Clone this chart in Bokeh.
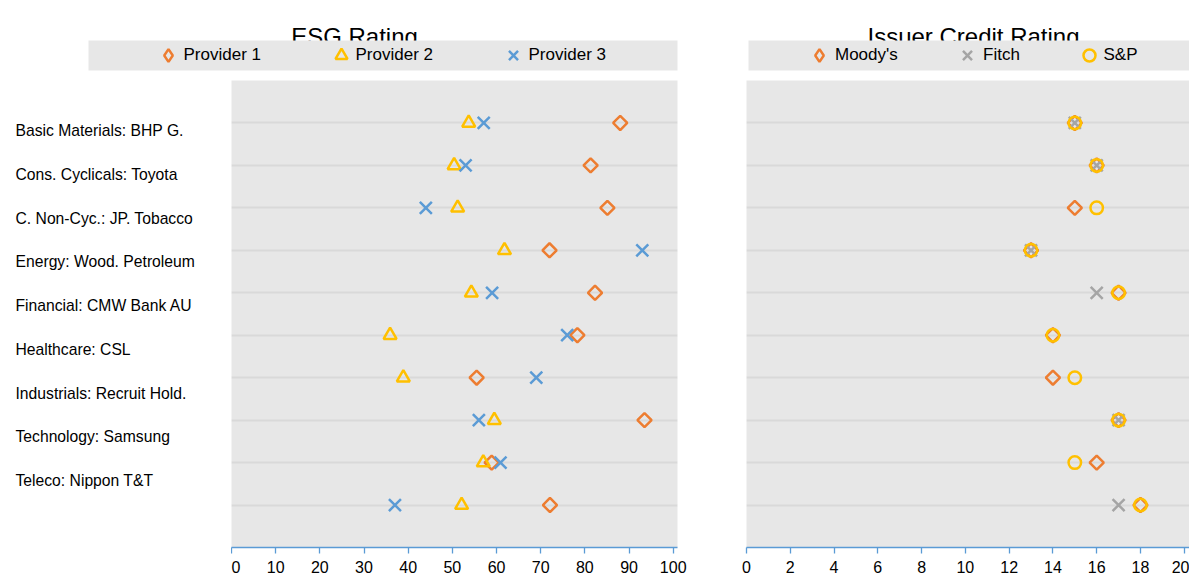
import math
from bokeh.plotting import figure
from bokeh.models import (Range1d, FixedTicker, Legend, LegendItem, Label,
                          BoxAnnotation, ColumnDataSource)
from bokeh.layouts import column, row
from bokeh.embed import file_html
from bokeh.resources import INLINE
from bokeh.core.properties import value

# ---------------- data ----------------
companies = ["Basic Materials: BHP G.", "Cons. Cyclicals: Toyota",
             "C. Non-Cyc.: JP. Tobacco", "Energy: Wood. Petroleum",
             "Financial: CMW Bank AU", "Healthcare: CSL",
             "Industrials: Recruit Hold.", "Technology: Samsung",
             "Teleco: Nippon T&T"]

# ESG scores, rows listed top to bottom (10 rows)
provider1 = [88.0, 81.3, 85.1, 72.0, 82.3, 78.3, 55.5, 93.5, 58.9, 72.1]
provider2 = [53.7, 50.4, 51.2, 61.8, 54.3, 35.9, 38.9, 59.5, 57.0, 52.1]
provider3 = [57.1, 53.0, 44.0, 93.0, 59.0, 76.0, 69.0, 56.0, 60.9, 37.0]

# Issuer credit rating notches, rows top to bottom
nan = float("nan")
moodys = [15, 16, 15, 13, 17, 14, 14, 17, 16, 18]
fitch = [15, 16, nan, 13, 16, nan, nan, 17, nan, 17]
sp = [15, 16, 16, 13, 17, 14, 15, 17, 15, 18]

esg_ticks = list(range(0, 101, 10))
credit_ticks = list(range(0, 21, 2))

esg_title = "ESG Rating"
credit_title = "Issuer Credit Rating"
esg_series = ["Provider 1", "Provider 2", "Provider 3"]
credit_series = ["Moody's", "Fitch", "S&P"]

# ---------------- style ----------------
FONT = "Liberation Sans"
ORANGE = "#ED7D31"
YELLOW = "#FFC000"
BLUE = "#5B9BD5"
GREY = "#A5A5A5"
PANEL = "#E7E7E7"
GRID = "#D9D9D9"
LW = 2.5

W = 1189
HEAD_H = 80
BODY_H = 498
BOTTOM = 31

n_rows = len(provider1)
rows = list(range(n_rows, 0, -1))  # top row gets the highest value

# ---------------- header (titles + legend bands) ----------------
head = figure(width=W, height=HEAD_H, x_range=Range1d(0, W), y_range=Range1d(0, HEAD_H),
              output_backend="svg", toolbar_location=None, min_border=0, title=None,
              x_axis_location=None, y_axis_location=None, outline_line_color=None)
head.grid.visible = False

for txt, cx in [(esg_title, 354), (credit_title, 973)]:
    head.add_layout(Label(x=cx, y=44, text=txt, text_align="center",
                          text_baseline="alphabetic", text_font=FONT,
                          text_font_size="24px", text_color="black"))
for l, r in [(88, 677), (748, W)]:
    head.add_layout(BoxAnnotation(left=l, right=r, bottom=10, top=40,
                                  fill_color=PANEL, fill_alpha=1.0, line_color=None))


def legend_renderer(fig, marker, color):
    return fig.scatter(x=[nan], y=[nan], marker=marker, fill_color=None,
                       line_color=color, line_width=LW)


def add_legend(fig, rend, label, cx, gsize, text_x, cy=25):
    # the legend glyph box must be gsize wide; split any excess between glyph and text
    excess = max(0.0, gsize / 2 - (text_x - cx))
    cx_eff = cx - excess / 2
    standoff = max(0, int(round(text_x + excess / 2 - cx_eff - gsize / 2)))
    leg = Legend(items=[LegendItem(label=label, renderers=[rend])],
                 location=(cx_eff - gsize / 2, cy - gsize / 2), orientation="horizontal",
                 glyph_width=gsize, glyph_height=gsize, label_height=gsize,
                 label_standoff=standoff, padding=0, margin=0, spacing=0,
                 border_line_color=None, background_fill_alpha=0.0,
                 label_text_font=FONT, label_text_font_size="17px",
                 label_text_color="black")
    fig.add_layout(leg)


leg_specs = [
    (esg_series[0], "diamond", ORANGE, 170, 32, 181),
    (esg_series[1], "triangle", YELLOW, 343, 30, 353),
    (esg_series[2], "x", BLUE, 515, 32, 526),
    (credit_series[0], "diamond", ORANGE, 822, 32, 832),
    (credit_series[1], "x", GREY, 970, 32, 980),
    (credit_series[2], "circle", YELLOW, 1091, 30, 1101),
]
for label, marker, color, cx, gs, tx in leg_specs:
    rr = legend_renderer(head, marker, color)
    add_legend(head, rr, label, cx, gs, tx)

# ---------------- category labels ----------------
lab = figure(width=231, height=BODY_H, x_range=Range1d(0, 231),
             y_range=Range1d(-0.531, 10.143), output_backend="svg", toolbar_location=None,
             min_border=0, min_border_bottom=BOTTOM, title=None,
             x_axis_location=None, y_axis_location=None, outline_line_color=None)
lab.grid.visible = False
lab_src = ColumnDataSource(dict(x=[15] * len(companies),
                                y=list(range(len(companies), 0, -1)),
                                text=companies))
lab.text(x="x", y="y", text="text", source=lab_src, text_align="left",
         text_baseline="middle", text_font=value(FONT), text_font_size=value("15.7px"),
         text_color="black")


def style_panel(p, ticks):
    p.background_fill_color = PANEL
    p.xgrid.visible = False
    p.ygrid.ticker = FixedTicker(ticks=rows)
    p.ygrid.grid_line_color = GRID
    p.ygrid.grid_line_width = 2
    ax = p.xaxis[0]
    ax.ticker = FixedTicker(ticks=ticks)
    ax.axis_line_color = BLUE
    ax.axis_line_width = 1.3
    ax.major_tick_line_color = BLUE
    ax.major_tick_line_width = 1.3
    ax.major_tick_out = 6
    ax.major_tick_in = 0
    ax.minor_tick_line_color = None
    ax.major_label_standoff = 7
    ax.major_label_text_font = FONT
    ax.major_label_text_font_size = "16px"
    ax.major_label_text_color = "black"


# ---------------- ESG panel ----------------
esg = figure(width=459, height=BODY_H, x_range=Range1d(0, 100.97),
             y_range=Range1d(0, 11), output_backend="svg", toolbar_location=None,
             min_border=0, min_border_right=13, min_border_bottom=BOTTOM, title=None,
             y_axis_location=None, outline_line_color=None)
style_panel(esg, esg_ticks)
esg_src = ColumnDataSource(dict(row=rows, p1=provider1, p2=provider2, p3=provider3))
esg.scatter(x="p1", y="row", source=esg_src, marker="square", angle=math.pi / 4,
            size=10, fill_color=None, line_color=ORANGE, line_width=LW)
esg.scatter(x="p2", y="row", source=esg_src, marker="triangle", size=13,
            fill_color=None, line_color=YELLOW, line_width=LW)
esg.scatter(x="p3", y="row", source=esg_src, marker="x", size=17,
            line_color=BLUE, line_width=LW)

# ---------------- credit panel ----------------
cred = figure(width=499, height=BODY_H, x_range=Range1d(0, 20.24),
              y_range=Range1d(0, 11), output_backend="svg", toolbar_location=None,
              min_border=0, min_border_left=56, min_border_bottom=BOTTOM, title=None,
              y_axis_location=None, outline_line_color=None)
style_panel(cred, credit_ticks)
cr_src = ColumnDataSource(dict(row=rows, m=moodys, f=fitch, s=sp))
cred.scatter(x="m", y="row", source=cr_src, marker="square", angle=math.pi / 4,
             size=10, fill_color=None, line_color=ORANGE, line_width=LW)
cred.scatter(x="f", y="row", source=cr_src, marker="x", size=17,
             line_color=GREY, line_width=LW)
cred.scatter(x="s", y="row", source=cr_src, marker="circle", size=12.5,
             fill_color=None, line_color=YELLOW, line_width=LW)

layout = column(head, row(lab, esg, cred))

open("out.html", "w").write(file_html(layout, INLINE))
